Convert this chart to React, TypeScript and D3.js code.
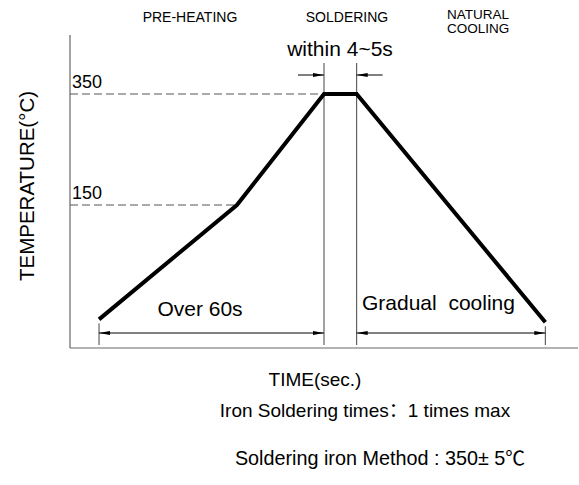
import React from 'react';
import * as d3 from 'd3';

// schematic profile: time (abstract units) vs temperature
const profileTime = [0, 38, 62, 71, 123];
const profileTemp = [30, 150, 350, 350, 27];
const refTemps = [350, 150];
const phaseLabels = ['PRE-HEATING', 'SOLDERING'];
const coolingLabel = ['NATURAL', 'COOLING'];
const notes = ['Iron Soldering times\uFF1A1 times max', 'Soldering iron Method : 350\u00B1 5\u2103'];

const W = 579;
const H = 485;
const font = 'Arial, "Liberation Sans", "Noto Sans CJK SC", sans-serif';

const App = () => {
    const x = d3.scaleLinear().domain([-8, 132]).range([70, 578]);
    // temperature axis is schematic, not linear from zero
    const y = d3.scaleLinear().domain([0, 150, 350]).range([348, 205, 94]);

    const pts: [number, number][] = profileTime.map((t, i) => [x(t), y(profileTemp[i])]);
    const line = d3.line();

    const arrow = (tipX: number, tipY: number, dir: number, key: string) => {
        const len = 11;
        const hw = 2;
        const d = `M${tipX},${tipY} L${tipX - dir * len},${tipY - hw} L${tipX - dir * len},${tipY + hw} Z`;
        return <path key={key} d={d} fill="#000" />;
    };

    const axisY = y(0);
    const dimY = 333;
    const topDimY = 75;
    const xs = profileTime.map(t => x(t));

    return (
        <svg width={W} height={H} style={{ display: 'block', position: 'absolute', left: 0, top: 0 }} fontFamily={font}>
            <rect width={W} height={H} fill="#fff" />
            {/* axes */}
            <line x1={70} x2={70} y1={35} y2={axisY} stroke="#666" strokeWidth={1.2} />
            <line x1={70} x2={578} y1={axisY} y2={axisY} stroke="#666" strokeWidth={1.2} />

            {/* reference temperature dashed lines */}
            {refTemps.map(t => {
                const idx = profileTemp.indexOf(t);
                return (
                    <g key={t}>
                        <line x1={70} x2={xs[idx]} y1={y(t)} y2={y(t)} stroke="#555" strokeWidth={1} strokeDasharray="8,4" />
                        <text x={72} y={y(t) - 6} fontSize={18} fill="#000">{t}</text>
                    </g>
                );
            })}

            {/* extension lines */}
            <line x1={xs[2]} x2={xs[2]} y1={63} y2={345} stroke="#444" strokeWidth={1} />
            <line x1={xs[3]} x2={xs[3]} y1={63} y2={345} stroke="#444" strokeWidth={1} />
            <line x1={xs[0]} x2={xs[0]} y1={y(profileTemp[0]) + 4} y2={345} stroke="#444" strokeWidth={1} />
            <line x1={xs[4]} x2={xs[4]} y1={y(profileTemp[4]) + 4} y2={345} stroke="#444" strokeWidth={1} />

            {/* profile */}
            <path d={line(pts) || ''} fill="none" stroke="#000" strokeWidth={4} strokeLinejoin="miter" />

            {/* bottom dimension lines */}
            <line x1={xs[0]} x2={xs[2]} y1={dimY} y2={dimY} stroke="#000" strokeWidth={1} />
            {arrow(xs[0], dimY, -1, 'a1')}
            {arrow(xs[2], dimY, 1, 'a2')}
            <line x1={xs[3]} x2={xs[4]} y1={dimY} y2={dimY} stroke="#000" strokeWidth={1} />
            {arrow(xs[3], dimY, -1, 'a3')}
            {arrow(xs[4], dimY, 1, 'a4')}

            {/* top dimension */}
            <line x1={xs[2] - 26} x2={xs[2]} y1={topDimY} y2={topDimY} stroke="#000" strokeWidth={1} />
            {arrow(xs[2], topDimY, 1, 'a5')}
            <line x1={xs[3]} x2={xs[3] + 26} y1={topDimY} y2={topDimY} stroke="#000" strokeWidth={1} />
            {arrow(xs[3], topDimY, -1, 'a6')}

            {/* labels */}
            <text x={190} y={22} fontSize={14} textAnchor="middle">{phaseLabels[0]}</text>
            <text x={347} y={22} fontSize={14} textAnchor="middle">{phaseLabels[1]}</text>
            <text x={447} y={19} fontSize={13.5}>{coolingLabel[0]}</text>
            <text x={447} y={33} fontSize={13.5}>{coolingLabel[1]}</text>
            <text x={340} y={56} fontSize={21} textAnchor="middle">within 4~5s</text>
            <text x={200} y={316} fontSize={21} textAnchor="middle">Over 60s</text>
            <text x={362} y={310} fontSize={21} xmlSpace="preserve">Gradual  cooling</text>

            <text transform={`translate(34,186) rotate(-90)`} fontSize={20.5} textAnchor="middle">TEMPERATURE(°C)</text>
            <text x={315} y={386} fontSize={19} textAnchor="middle">TIME(sec.)</text>
            <text x={365} y={417} fontSize={19} textAnchor="middle">{notes[0]}</text>
            <text x={380} y={465} fontSize={19.8} textAnchor="middle">{notes[1]}</text>
        </svg>
    );
};

export default App;
